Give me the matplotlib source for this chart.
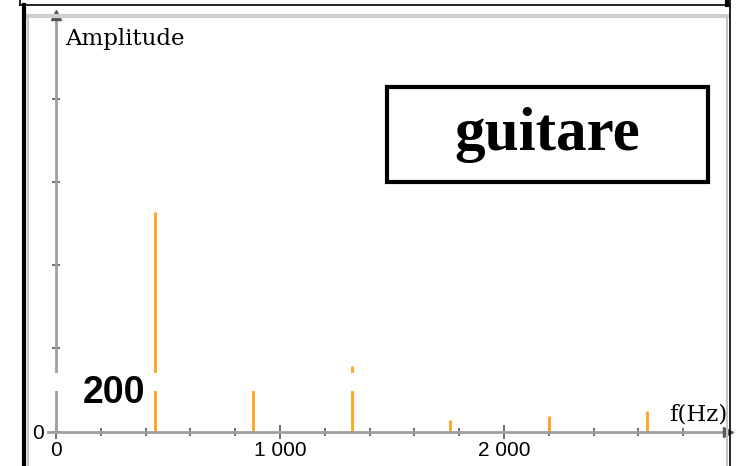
import numpy as np
import matplotlib
matplotlib.use("Agg")
import matplotlib.pyplot as plt
from matplotlib import font_manager
from matplotlib.lines import Line2D
from matplotlib.patches import Rectangle

# spectrum of the guitar note (frequencies in Hz, amplitude in tick units)
freqs = [440, 880, 1320, 1760, 2200, 2640]
amps = [2.64, 0.55, 0.79, 0.14, 0.19, 0.25]
xtick_major = [0, 1000, 2000]
xtick_labels = ["0", "1 000", "2 000"]
ytick_pos = [0, 1, 2, 3, 4]
ytick_labels = ["0", "", "", "", ""]

W, H = 736, 466
fig = plt.figure(figsize=(W / 100, H / 100), dpi=100)


def px(x, y):
    # pixel position -> figure fraction
    return x / W, 1 - y / H


names = {f.name for f in font_manager.fontManager.ttflist}
narrow = "Liberation Sans Narrow" if "Liberation Sans Narrow" in names else "Liberation Sans"

# axes placed so that 0 Hz / 0 amplitude sit at the drawn origin
sx = 0.224   # px per Hz
sy = 83.25   # px per amplitude unit
x0, y0 = 56, 431.7
xmin, xmax = -35, 3000
ymax = 5
left = (x0 + xmin * sx) / W
width = (xmax - xmin) * sx / W
bottom = (H - y0) / H
height = ymax * sy / H
ax = fig.add_axes([left, bottom, width, height])
ax.set_xlim(xmin, xmax)
ax.set_ylim(0, ymax)
ax.patch.set_alpha(0)

for s in ["top", "right"]:
    ax.spines[s].set_visible(False)
ax.spines["left"].set_position(("data", 0))
for s in ["left", "bottom"]:
    ax.spines[s].set_color("#a0a0a0")
    ax.spines[s].set_linewidth(2)

ax.set_xticks(xtick_major)
ax.set_xticklabels(xtick_labels, fontfamily=narrow, fontsize=15)
ax.set_xticks(np.arange(200, 3000, 200), minor=True)
ax.tick_params(axis="x", which="major", direction="inout", length=10, width=1.3,
               color="#666666", pad=2)
ax.tick_params(axis="x", which="minor", direction="inout", length=6, width=1.3,
               color="#666666")
ax.set_yticks(ytick_pos)
ax.set_yticklabels(ytick_labels, fontfamily=narrow, fontsize=15)
ax.tick_params(axis="y", direction="inout", length=6, width=1.3, color="#666666", pad=6)

# arrow heads
ax.plot([xmax], [0], marker=">", ms=7, color="#555555", clip_on=False, zorder=5)
ax.plot([0], [ymax], marker="^", ms=7, color="#555555", clip_on=False, zorder=5)

ax.vlines(freqs, 0, amps, colors="#FFA31A", lw=2, zorder=2)

# white strip behind the "200" label
ax.add_patch(Rectangle((-40, 0.49), 1440, 0.215, facecolor="white", edgecolor="none",
                       zorder=3, clip_on=False))

fig.text(*px(65, 45), "Amplitude", fontfamily="DejaVu Serif", fontsize=16.5,
         ha="left", va="baseline")
fig.text(*px(727, 420), "f(Hz)", fontfamily="DejaVu Serif", fontsize=16.5,
         ha="right", va="baseline")
fig.text(*px(114, 393), "200", fontfamily="Liberation Sans", fontweight="bold",
         fontsize=27, ha="center", va="center", zorder=6)

# title box
fig.add_artist(Rectangle(px(387, 182), 321 / W, 95 / H, transform=fig.transFigure,
                         facecolor="white", edgecolor="black", lw=3))
fig.text(*px(547, 150), "guitare", fontfamily="Liberation Serif", fontweight="bold",
         fontsize=44, ha="center", va="baseline")

# picture frame
def fline(xs, ys, c, lw):
    pts = [px(x, y) for x, y in zip(xs, ys)]
    fig.add_artist(Line2D([p[0] for p in pts], [p[1] for p in pts],
                          transform=fig.transFigure, color=c, lw=lw))


fline([28, 728], [16, 16], "#cfcfcf", 3)
fline([28, 28], [16, 466], "#c4c4c4", 1.5)
fline([727, 727], [16, 466], "#c4c4c4", 1.5)
fline([20, 730], [5, 5], "black", 1.2)
fline([20, 20], [0, 5], "black", 1.2)
fline([24, 24], [5, 466], "black", 3)
fline([730, 730], [0, 466], "black", 1.2)
fline([727, 727], [0, 5], "black", 3)

plt.savefig("out.png", dpi=100)
